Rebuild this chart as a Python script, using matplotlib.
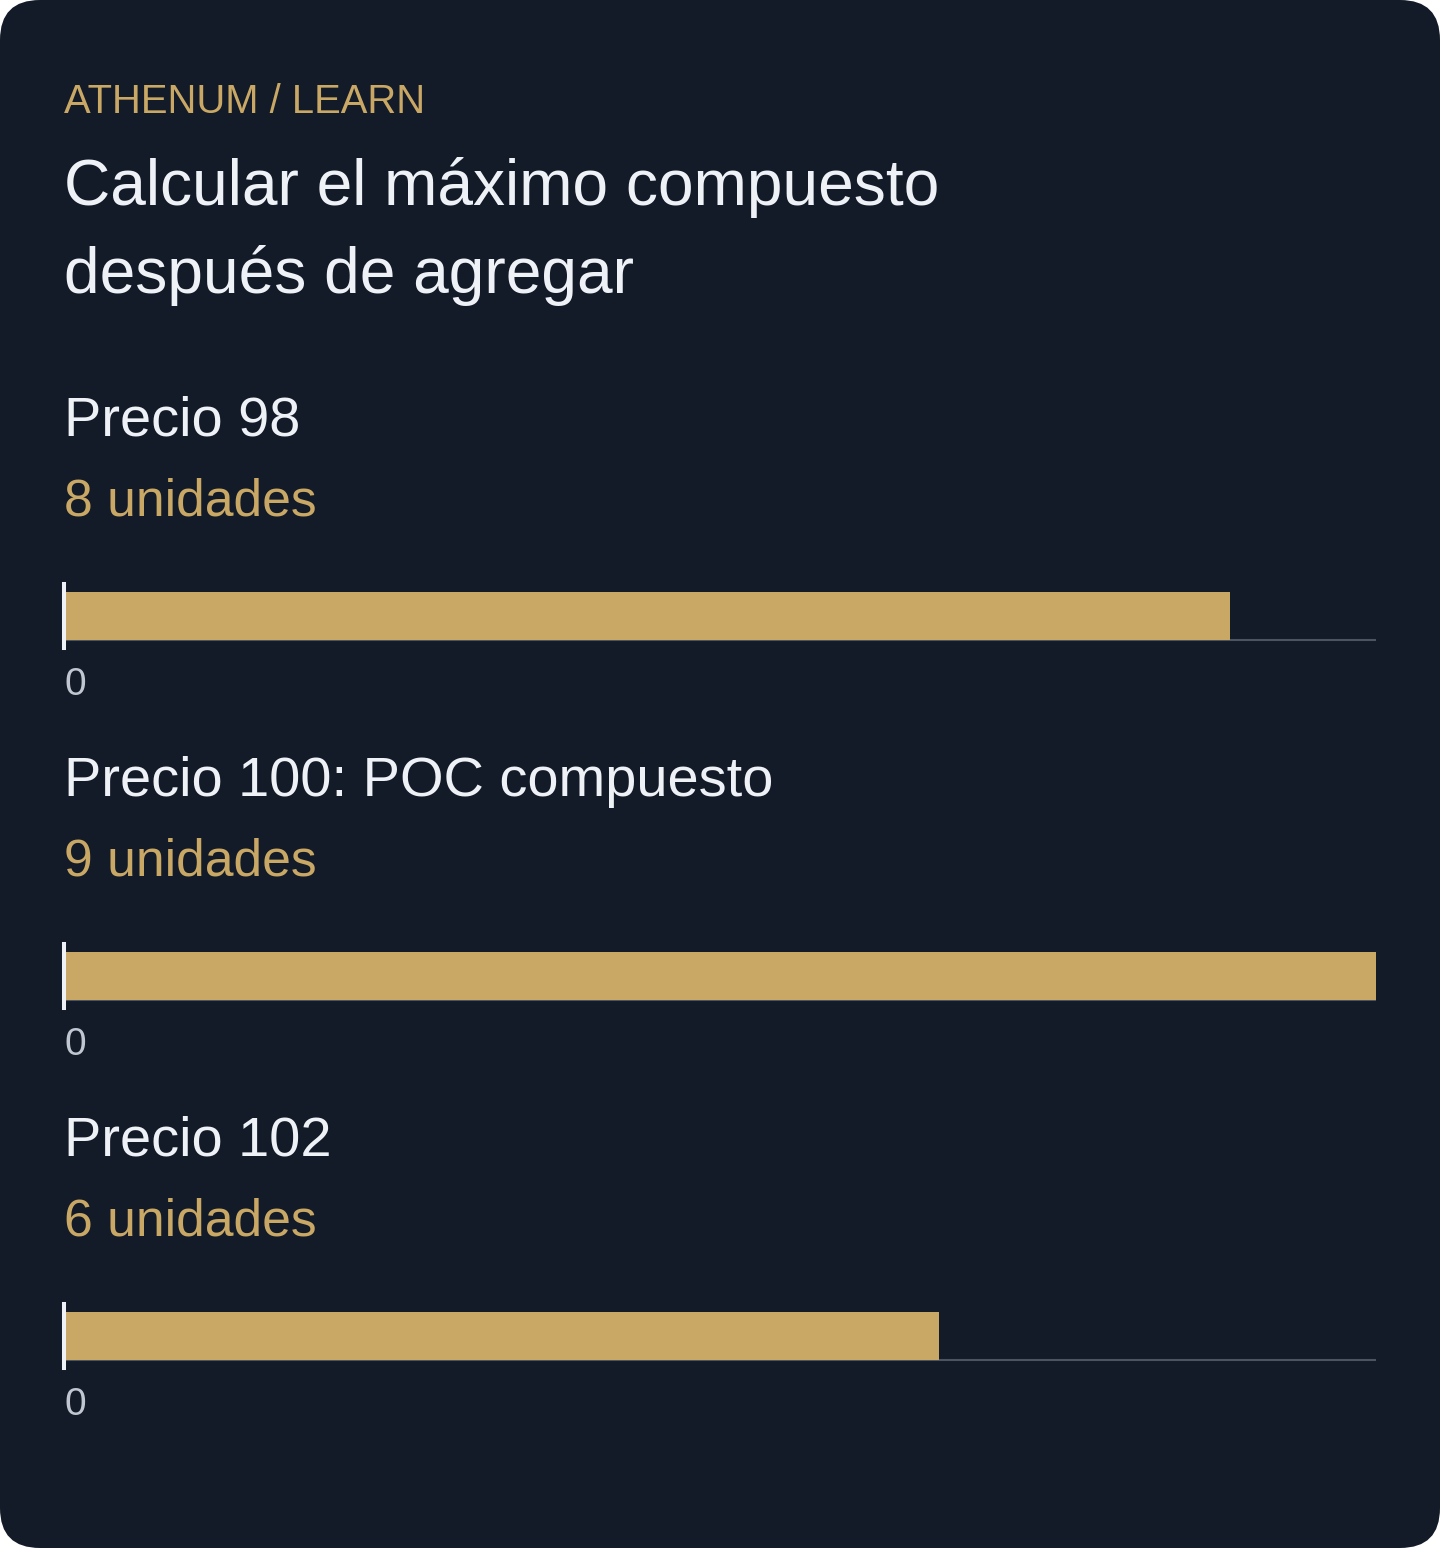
import matplotlib
matplotlib.use("Agg")
import matplotlib.pyplot as plt
from matplotlib.patches import FancyBboxPatch

plt.rcParams['font.family'] = ['Liberation Sans', 'DejaVu Sans']

# data
precios = ['Precio 98', 'Precio 100: POC compuesto', 'Precio 102']
unidades = [8, 9, 6]
sub_labels = ['8 unidades', '9 unidades', '6 unidades']
max_unidades = 9

BG = '#131a28'
GOLD = '#c9a865'
WHITE = '#eef2f7'
TICK = '#c0c7d1'
GRID = '#4b5464'

W, H = 1440, 1548
fig = plt.figure(figsize=(W / 100, H / 100), dpi=100)
fig.patch.set_facecolor('white')

# rounded card
card = FancyBboxPatch((0, 0), 1, 1, boxstyle="round,pad=0,rounding_size=%f" % (40 / W),
                      mutation_aspect=W / H, transform=fig.transFigure,
                      facecolor=BG, edgecolor='none', zorder=-10)
fig.patches.append(card)


def fy(py):
    return 1 - py / H


fig.text(64 / W, fy(113), 'ATHENUM / LEARN', color=GOLD, fontsize=28.8, va='baseline')
fig.text(64 / W, fy(205), 'Calcular el máximo compuesto', color=WHITE, fontsize=46.1, va='baseline')
fig.text(64 / W, fy(293), 'después de agregar', color=WHITE, fontsize=46.1, va='baseline')

for i, (name, val, sub) in enumerate(zip(precios, unidades, sub_labels)):
    off = i * 360
    fig.text(64 / W, fy(436 + off), name, color=WHITE, fontsize=40.3, va='baseline')
    fig.text(64 / W, fy(515 + off), sub, color=GOLD, fontsize=37.2, va='baseline')

    top, bot = 584 + off, 648 + off
    ax = fig.add_axes([64 / W, fy(bot), 1312 / W, (bot - top) / H])
    ax.set_facecolor('none')
    ax.barh([0], [val], height=0.75, color=GOLD, zorder=2)
    ax.axhline(-0.375, color=GRID, lw=1.5, zorder=1)
    ax.set_xlim(0, max_unidades)
    ax.set_ylim(-0.5, 0.5)
    for s in ['top', 'right', 'bottom']:
        ax.spines[s].set_visible(False)
    ax.spines['left'].set_color(WHITE)
    ax.spines['left'].set_linewidth(2.9)
    ax.spines['left'].set_zorder(3)
    ax.set_yticks([])
    ax.set_xticks([0])
    ax.set_xticklabels(['0'], ha='left')
    ax.tick_params(axis='x', length=0, pad=14, labelsize=28, labelcolor=TICK)

fig.savefig('out.png', dpi=100, facecolor=fig.get_facecolor())
